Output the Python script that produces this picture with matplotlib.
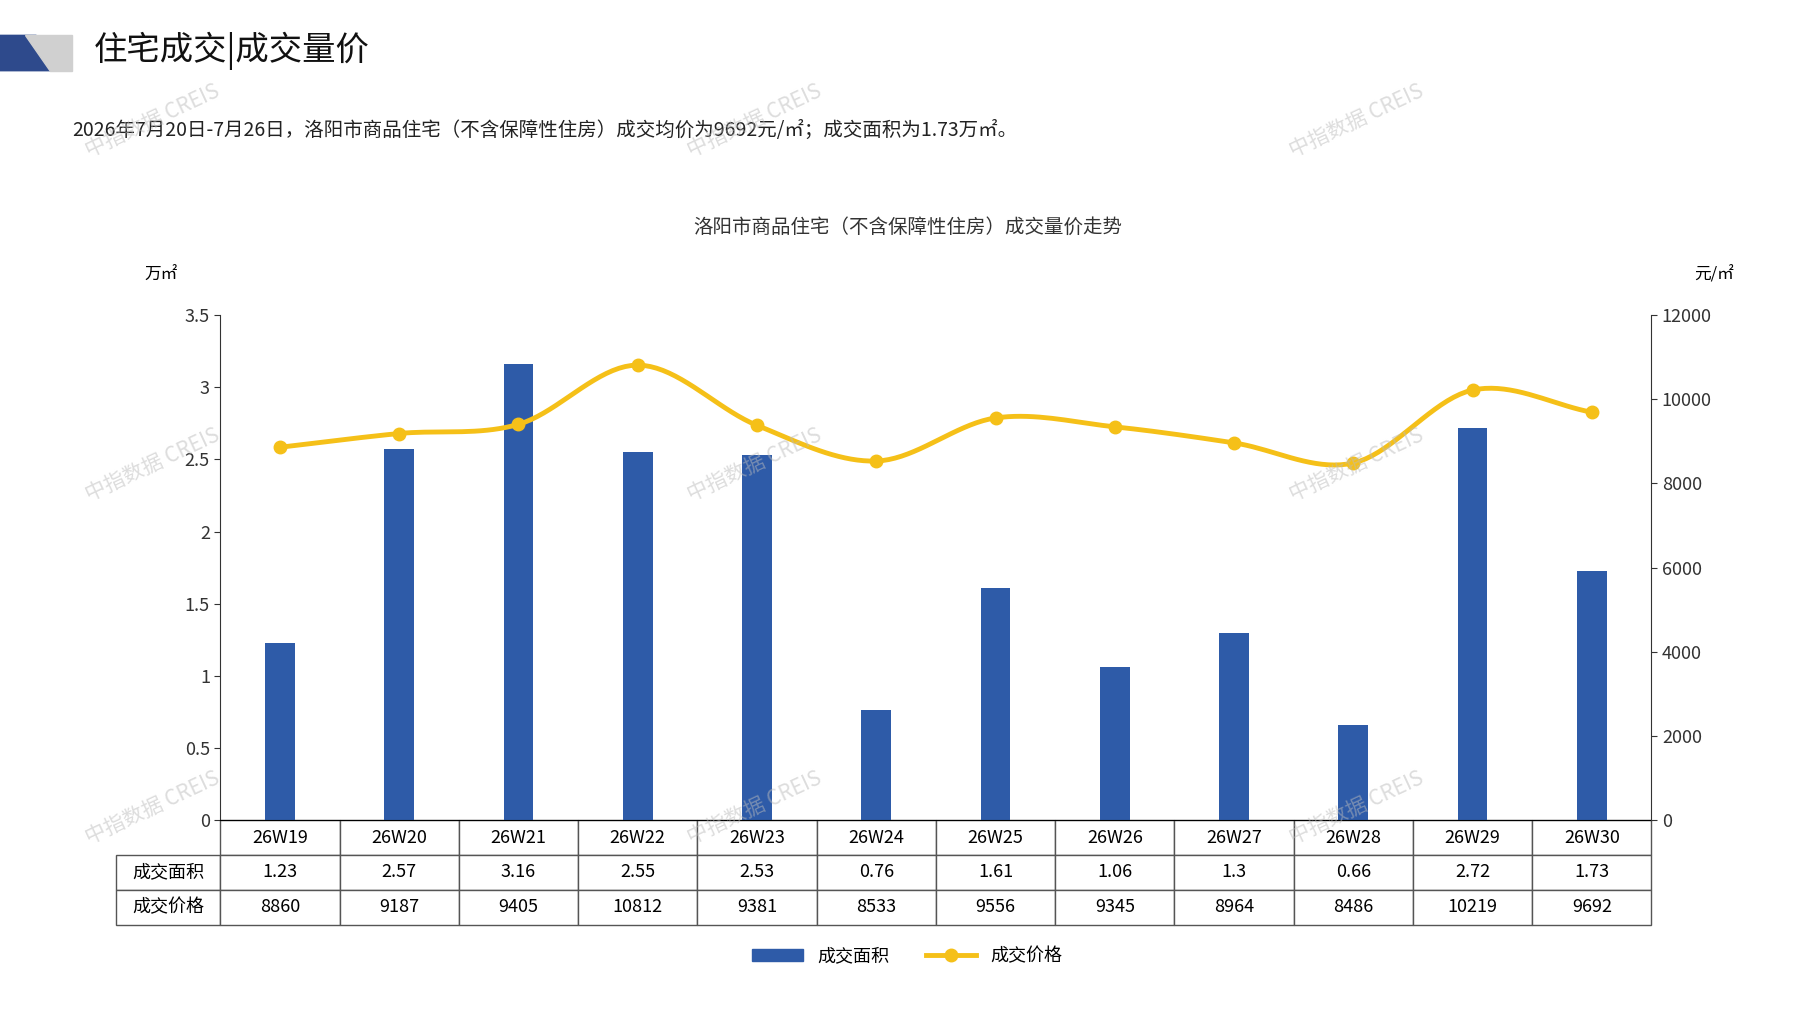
import numpy as np
import matplotlib.pyplot as plt
from matplotlib.patches import Polygon

plt.rcParams['font.family'] = ['Noto Sans CJK SC', 'DejaVu Sans']

# 图表数据
weeks = ["26W19", "26W20", "26W21", "26W22", "26W23", "26W24",
         "26W25", "26W26", "26W27", "26W28", "26W29", "26W30"]
area = [1.23, 2.57, 3.16, 2.55, 2.53, 0.76, 1.61, 1.06, 1.3, 0.66, 2.72, 1.73]
area_labels = ["1.23", "2.57", "3.16", "2.55", "2.53", "0.76",
               "1.61", "1.06", "1.3", "0.66", "2.72", "1.73"]
price = [8860, 9187, 9405, 10812, 9381, 8533, 9556, 9345, 8964, 8486, 10219, 9692]

BAR_COLOR = "#2E5BA8"
LINE_COLOR = "#F5C018"


def smooth_curve(x, y, n=20):
    # 绘图用的平滑曲线 (Catmull-Rom)
    x = np.asarray(x, float)
    y = np.asarray(y, float)
    m = np.gradient(y, x)
    xs, ys = [], []
    for i in range(len(x) - 1):
        t = np.linspace(0, 1, n)
        h = x[i + 1] - x[i]
        h00 = 2 * t**3 - 3 * t**2 + 1
        h10 = t**3 - 2 * t**2 + t
        h01 = -2 * t**3 + 3 * t**2
        h11 = t**3 - t**2
        xs.extend(x[i] + t * h)
        ys.extend(h00 * y[i] + h10 * h * m[i] + h01 * y[i + 1] + h11 * h * m[i + 1])
    return xs, ys


def draw_header(fig):
    # 左上角装饰
    fig.patches.append(Polygon([[0, 0.965], [0.02, 0.965], [0.035, 0.93], [0, 0.93]],
                               closed=True, transform=fig.transFigure, color="#2E4A8C"))
    fig.patches.append(Polygon([[0.014, 0.965], [0.04, 0.965], [0.04, 0.93], [0.028, 0.93]],
                               closed=True, transform=fig.transFigure, color="#D0D0D0"))
    fig.text(0.052, 0.95, "住宅成交|成交量价", fontsize=24, va="center", color="#111111")
    fig.text(0.04, 0.871, "2026年7月20日-7月26日，洛阳市商品住宅（不含保障性住房）成交均价为9692元/㎡；成交面积为1.73万㎡。",
             fontsize=14, va="center", color="#222222")
    fig.text(0.505, 0.775, "洛阳市商品住宅（不含保障性住房）成交量价走势",
             fontsize=14, ha="center", va="center", color="#333333")
    # 水印
    for x in (0.085, 0.42, 0.755):
        for y in (0.88, 0.54, 0.2):
            fig.text(x, y, "中指数据 CREIS", fontsize=15, color="#BBBBBB", alpha=0.5,
                     rotation=25, ha="center", va="center")


def main():
    fig = plt.figure(figsize=(17.97, 10.10), dpi=100)
    draw_header(fig)

    ax = fig.add_axes([0.1226, 0.188, 0.7964, 0.5])
    x = np.arange(len(weeks))
    ax.bar(x, area, width=0.25, color=BAR_COLOR, zorder=2)
    ax.set_xlim(-0.5, len(weeks) - 0.5)
    ax.set_ylim(0, 3.5)
    ax.set_yticks([0, 0.5, 1, 1.5, 2, 2.5, 3, 3.5])
    ax.set_yticklabels(["0", "0.5", "1", "1.5", "2", "2.5", "3", "3.5"])
    ax.set_xticks([])
    for s in ("top", "right"):
        ax.spines[s].set_visible(False)
    ax.spines["left"].set_color("#333333")
    ax.tick_params(axis="y", labelsize=13, colors="#333333", length=4)
    ax.text(-0.03, 1.07, "万㎡", transform=ax.transAxes, fontsize=12, ha="right")

    ax2 = ax.twinx()
    sx, sy = smooth_curve(x, price)
    ax2.plot(sx, sy, color=LINE_COLOR, linewidth=3.5, zorder=3)
    ax2.plot(x, price, "o", color=LINE_COLOR, markersize=9, zorder=4)
    ax2.set_ylim(0, 12000)
    ax2.set_yticks(range(0, 12001, 2000))
    for s in ("top", "left", "bottom"):
        ax2.spines[s].set_visible(False)
    ax2.spines["right"].set_color("#333333")
    ax2.tick_params(axis="y", labelsize=13, colors="#333333", length=4)
    ax2.text(1.03, 1.07, "元/㎡", transform=ax2.transAxes, fontsize=12, ha="left")

    # 下方数据表
    label_w = 0.073
    cell_text = [[""] + weeks,
                 ["成交面积"] + area_labels,
                 ["成交价格"] + [str(p) for p in price]]
    col_w = [label_w] + [1.0 / len(weeks)] * len(weeks)
    table = ax.table(cellText=cell_text, colWidths=col_w, cellLoc="center",
                     bbox=[-label_w, -0.207, 1 + label_w, 0.207])
    table.auto_set_font_size(False)
    for (r, c), cell in table.get_celld().items():
        cell.set_edgecolor("#555555")
        cell.set_text_props(fontsize=13)
        if r == 0 and c == 0:
            cell.visible_edges = ""
        if c == 0:
            cell.set_text_props(fontsize=13)

    # 图例
    fig.legend(handles=[plt.Rectangle((0, 0), 1, 1, color=BAR_COLOR),
                        plt.Line2D([], [], color=LINE_COLOR, lw=3.5, marker="o", markersize=9)],
               labels=["成交面积", "成交价格"], loc="center", bbox_to_anchor=(0.505, 0.053),
               ncol=2, frameon=False, fontsize=13, handlelength=2.8)

    fig.savefig("out.png", dpi=100)


if __name__ == "__main__":
    main()
